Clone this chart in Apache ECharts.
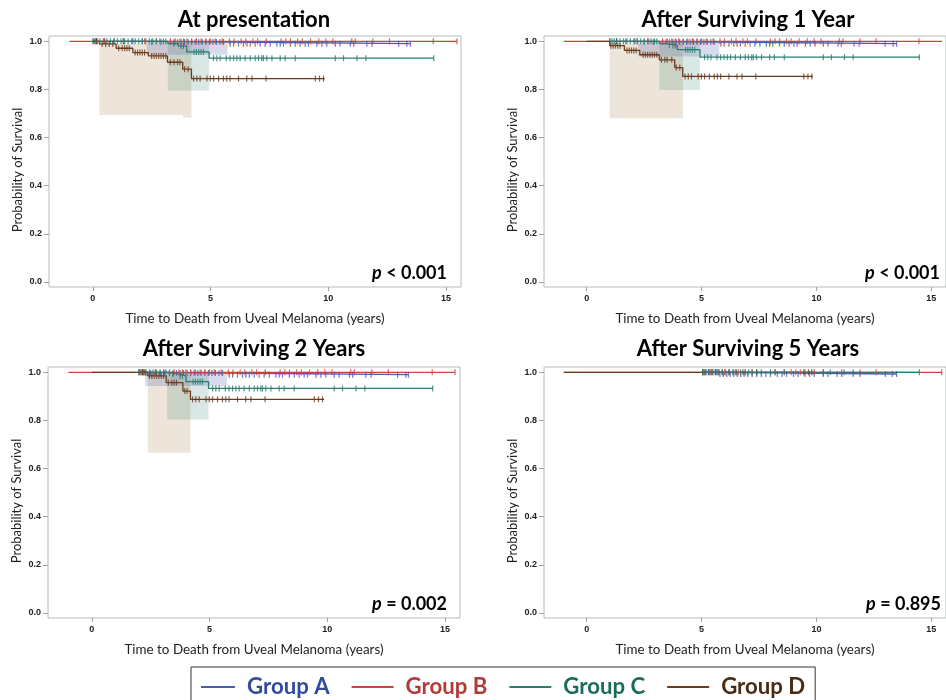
<!DOCTYPE html>
<html><head><meta charset="utf-8">
<script src="https://cdn.jsdelivr.net/npm/echarts@6/dist/echarts.min.js"></script>
<style>html,body{margin:0;padding:0;background:#fff}#c{width:946px;height:700px}</style>
</head><body><div id="c"></div>
<script>
const groupNames = ['Group A','Group B','Group C','Group D'];
const panelTitles = ['At presentation','After Surviving 1 Year','After Surviving 2 Years','After Surviving 5 Years'];
const pValues = ['< 0.001','< 0.001','= 0.002','= 0.895'];
const xTickValues = [0,5,10,15];
const yTickValues = [0,0.2,0.4,0.6,0.8,1.0];
const xAxisName = 'Time to Death from Uveal Melanoma (years)';
const yAxisName = 'Probability of Survival';

// ---- Panel 1: At presentation ----
const p1_A_t = [0, 2.3, 5.7, 13.49];
const p1_A_s = [1, 0.997, 0.99, 0.99];
const p1_B_t = [-1, 15.47];
const p1_B_s = [1, 1];
const p1_C_t = [0, 3.19, 3.63, 3.99, 4.94, 14.48];
const p1_C_s = [1, 0.99, 0.98, 0.956, 0.93, 0.93];
const p1_D_t = [0, 0.28, 0.99, 1.7, 2.36, 3.17, 3.82, 4.19, 9.85];
const p1_D_s = [1, 0.989, 0.971, 0.953, 0.939, 0.913, 0.884, 0.845, 0.845];
const p1_A_cens = [0.1,0.5,0.9,1.3,1.7,2.1,2.5,2.9,3.3,3.45,3.6,3.75,3.9,4.05,4.2,4.35,4.5,4.65,4.8,4.95,5.1,5.25,5.4,5.55,5.84,5.98,6.19,6.4,6.55,6.69,6.9,7.11,7.32,7.54,7.82,7.96,8.1,8.39,8.6,8.81,9.02,9.16,9.52,9.73,9.94,10.3,10.5,10.94,11.08,11.64,11.86,12.99,13.34,13.49];
const p1_B_cens = [0.2,0.5,1.3,2.2,2.7,3.3,3.5,3.7,3.85,4.0,4.2,4.4,4.6,4.8,5.0,5.2,5.5,5.8,6.0,6.3,6.5,6.8,7.0,7.37,8.0,8.2,8.4,8.7,8.9,9.25,9.6,9.9,10.2,11.0,11.15,11.9,12.6,14.46,15.47];
const p1_C_cens = [0.0,0.15,0.3,0.45,0.6,0.75,0.9,1.05,1.2,1.35,1.5,1.65,1.8,1.95,2.1,2.25,2.4,2.55,2.7,2.85,3.0,3.1,3.45,3.75,3.85,4.3,4.4,4.5,4.6,4.7,5.13,5.27,5.41,5.67,5.83,5.98,6.12,6.26,6.47,6.69,6.9,7.04,7.18,7.25,7.39,7.61,7.96,8.17,8.6,10.3,10.65,11.22,11.6,14.48];
const p1_D_cens = [0.05,0.15,0.4,0.55,0.7,0.85,1.1,1.25,1.35,1.45,1.55,1.8,1.9,2.0,2.1,2.2,2.5,2.6,2.7,2.8,2.9,3.0,3.1,3.3,3.45,3.6,3.7,3.9,4.05,4.28,4.42,4.56,4.85,4.99,5.13,5.34,5.55,5.69,5.83,6.19,6.54,6.76,7.36,9.45,9.63,9.8];
const p1_A_bands = [[2.29, 5.72, 0.944, 1.0]];
const p1_C_bands = [[3.19, 4.94, 0.795, 1.0]];
const p1_D_bands = [[0.28, 3.82, 0.694, 0.99], [3.82, 4.19, 0.683, 0.99]];

// ---- Panel 2: After surviving 1 year ----
const p2_A_t = [1.0, 2.25, 5.7, 13.49];
const p2_A_s = [1, 0.997, 0.99, 0.99];
const p2_B_t = [-1, 15.47];
const p2_B_s = [1, 1];
const p2_C_t = [1.0, 3.16, 3.5, 3.94, 4.93, 14.48];
const p2_C_s = [1, 0.99, 0.983, 0.965, 0.934, 0.934];
const p2_D_t = [0, 1.0, 1.64, 2.31, 3.16, 3.83, 4.18, 9.85];
const p2_D_s = [1, 0.982, 0.962, 0.944, 0.923, 0.891, 0.854, 0.854];
const p2_A_cens = [1.0,1.3,1.7,2.1,2.5,2.9,3.3,3.45,3.6,3.75,3.9,4.05,4.2,4.35,4.5,4.65,4.8,4.95,5.1,5.25,5.4,5.55,5.84,5.98,6.19,6.4,6.55,6.69,6.9,7.11,7.32,7.54,7.82,7.96,8.1,8.39,8.6,8.81,9.02,9.16,9.52,9.73,9.94,10.3,10.5,10.94,11.08,11.64,11.86,12.99,13.34,13.49];
const p2_B_cens = [1.3,2.2,2.7,3.3,3.5,3.7,3.85,4.0,4.2,4.4,4.6,4.8,5.0,5.2,5.5,5.8,6.0,6.3,6.5,6.8,7.0,7.37,8.0,8.2,8.4,8.7,8.9,9.25,9.6,9.9,10.2,11.0,11.15,11.9,12.6,14.46];
const p2_C_cens = [1.0,1.1,1.2,1.3,1.45,1.6,1.75,1.9,2.05,2.2,2.35,2.5,2.65,2.8,2.95,3.05,3.6,3.75,3.85,4.3,4.4,4.5,4.6,4.7,5.13,5.27,5.41,5.67,5.83,5.98,6.12,6.26,6.47,6.69,6.9,7.04,7.18,7.25,7.39,7.61,7.96,8.17,8.6,10.3,10.65,11.22,11.6,14.48];
const p2_D_cens = [1.05,1.15,1.25,1.35,1.45,1.75,1.85,1.95,2.05,2.15,2.45,2.55,2.65,2.75,2.85,2.95,3.05,3.25,3.4,3.5,3.7,3.9,4.05,4.28,4.42,4.56,4.85,4.99,5.13,5.34,5.55,5.69,5.83,6.19,6.54,6.76,7.36,9.45,9.63,9.8];
const p2_A_bands = [[2.24, 5.77, 0.937, 1.0]];
const p2_C_bands = [[3.16, 4.93, 0.798, 1.0]];
const p2_D_bands = [[1.0, 4.19, 0.68, 0.99]];

// ---- Panel 3: After surviving 2 years ----
const p3_A_t = [2.0, 2.27, 5.74, 13.45];
const p3_A_s = [1, 0.997, 0.99, 0.99];
const p3_B_t = [-1, 15.43];
const p3_B_s = [1, 1];
const p3_C_t = [2.0, 3.2, 3.65, 4.0, 4.96, 14.48];
const p3_C_s = [1, 0.993, 0.985, 0.961, 0.933, 0.933];
const p3_D_t = [0, 2.38, 3.16, 3.87, 4.19, 9.87];
const p3_D_s = [1, 0.985, 0.957, 0.922, 0.8875, 0.8875];
const p3_A_cens = [2.0,2.15,2.3,2.5,2.7,2.9,3.1,3.3,3.45,3.6,3.75,3.9,4.05,4.2,4.35,4.5,4.65,4.8,4.95,5.1,5.25,5.4,5.55,5.84,5.98,6.19,6.4,6.55,6.69,6.9,7.11,7.32,7.54,7.82,7.96,8.1,8.39,8.6,8.81,9.02,9.16,9.52,9.73,9.94,10.3,10.5,10.94,11.08,11.64,11.86,12.99,13.34,13.45];
const p3_B_cens = [2.2,2.7,3.3,3.5,3.7,3.85,4.0,4.2,4.4,4.6,4.8,5.0,5.2,5.5,5.8,6.0,6.3,6.5,6.8,7.0,7.37,8.0,8.2,8.4,8.7,8.9,9.25,9.6,9.9,10.2,11.0,11.15,11.9,12.6,14.46,15.43];
const p3_C_cens = [2.0,2.1,2.2,2.3,2.45,2.6,2.75,2.9,3.05,3.15,3.45,3.75,3.85,4.3,4.4,4.5,4.6,4.7,5.13,5.27,5.41,5.67,5.83,5.98,6.12,6.26,6.47,6.69,6.9,7.04,7.18,7.25,7.39,7.61,7.96,8.17,8.6,10.3,10.65,11.22,11.6,14.48];
const p3_D_cens = [2.05,2.15,2.25,2.45,2.55,2.65,2.75,2.85,2.95,3.05,3.25,3.4,3.5,3.6,3.95,4.05,4.28,4.42,4.56,4.85,4.99,5.13,5.34,5.55,5.69,5.83,6.19,6.54,6.76,7.36,9.45,9.63,9.8];
const p3_A_bands = [[2.27, 5.74, 0.943, 1.0]];
const p3_C_bands = [[3.2, 4.96, 0.804, 1.0]];
const p3_D_bands = [[2.38, 4.19, 0.666, 0.99]];

// ---- Panel 4: After surviving 5 years ----
const p4_A_t = [5.0, 5.7, 13.49];
const p4_A_s = [1, 0.993, 0.993];
const p4_B_t = [-1, 15.47];
const p4_B_s = [1, 1];
const p4_C_t = [5.0, 14.48];
const p4_C_s = [1, 1];
const p4_D_t = [-1, 9.8];
const p4_D_s = [1, 1];
const p4_A_cens = [5.05,5.2,5.35,5.5,5.65,5.8,5.95,6.1,6.25,6.4,6.55,6.7,6.85,7.0,7.2,7.4,7.6,7.8,8.0,8.3,8.5,8.7,9.0,9.2,9.5,9.7,9.9,10.3,10.5,10.9,11.1,11.6,11.9,13.0,13.3,13.49];
const p4_B_cens = [5.1,5.4,5.7,6.0,6.2,6.4,6.6,6.9,7.2,8.2,8.6,8.9,9.1,9.3,9.5,9.9,10.3,11.1,11.9,12.6,15.45];
const p4_C_cens = [5.05,5.15,5.3,5.45,5.6,5.75,5.9,6.05,6.2,6.35,6.5,6.7,6.9,7.05,7.2,7.4,7.6,8.0,8.2,8.6,10.3,10.6,11.2,11.6,14.48];
const p4_D_cens = [5.05,5.15,5.3,5.45,5.6,5.75,5.9,6.2,6.5,6.8,7.4,9.45,9.65,9.8];

// ---- styles ----
const lineColors = {A:'#4a5cae', B:'#c8473d', C:'#2a7d6c', D:'#6b3b1b'};
const bandColors = {A:'rgba(74,92,174,0.22)', C:'rgba(42,125,108,0.18)', D:'rgba(140,92,16,0.16)'};
const legendTextColors = ['#2f4b9a','#b13a35','#1b6b5b','#4e2a12'];
const legendIcons = ['path://M0,0h0.01v2h-0.01z M8,0h34v2h-34z','rect','rect','rect'];
const FONT = 'Lato, "Open Sans", sans-serif';

const panels = [
  {order:['A','B','C','D'], curves:{A:[p1_A_t,p1_A_s],B:[p1_B_t,p1_B_s],C:[p1_C_t,p1_C_s],D:[p1_D_t,p1_D_s]},
   cens:{A:p1_A_cens,B:p1_B_cens,C:p1_C_cens,D:p1_D_cens}, bands:{A:p1_A_bands,C:p1_C_bands,D:p1_D_bands}},
  {order:['A','B','C','D'], curves:{A:[p2_A_t,p2_A_s],B:[p2_B_t,p2_B_s],C:[p2_C_t,p2_C_s],D:[p2_D_t,p2_D_s]},
   cens:{A:p2_A_cens,B:p2_B_cens,C:p2_C_cens,D:p2_D_cens}, bands:{A:p2_A_bands,C:p2_C_bands,D:p2_D_bands}},
  {order:['A','B','C','D'], curves:{A:[p3_A_t,p3_A_s],B:[p3_B_t,p3_B_s],C:[p3_C_t,p3_C_s],D:[p3_D_t,p3_D_s]},
   cens:{A:p3_A_cens,B:p3_B_cens,C:p3_C_cens,D:p3_D_cens}, bands:{A:p3_A_bands,C:p3_C_bands,D:p3_D_bands}},
  {order:['A','B','D','C'], curves:{A:[p4_A_t,p4_A_s],B:[p4_B_t,p4_B_s],C:[p4_C_t,p4_C_s],D:[p4_D_t,p4_D_s]},
   cens:{A:p4_A_cens,B:p4_B_cens,C:p4_C_cens,D:p4_D_cens}, bands:{}}
];

const gridPos = [
  {left:49, top:36, width:412, height:251},
  {left:544, top:36, width:412, height:251},
  {left:48, top:367, width:412, height:251},
  {left:544, top:367, width:412, height:251}
];
const titleCenters = [[254,9],[748,9],[254,338],[748,338]];
const pRight = [946-447, 946-940, 946-447, 946-941];
const pTop = [264, 264, 595, 595];

function stepValue(ts, ss, t){
  let v = ss[0];
  for (let i=0;i<ts.length;i++){ if (ts[i] <= t + 1e-9) v = ss[i]; }
  return v;
}

const grids = [], xAxes = [], yAxes = [], series = [], titles = [];
panels.forEach((p, i) => {
  grids.push(Object.assign({show:true, borderColor:'#b3bcbc', borderWidth:1, backgroundColor:'transparent'}, gridPos[i]));
  xAxes.push({type:'value', gridIndex:i, min:-1.86, max:15.64, position:'bottom',
    axisLine:{show:false, onZero:false}, splitLine:{show:false},
    axisTick:{show:true, length:4, lineStyle:{color:'#9aa4a4'}, customValues:xTickValues},
    axisLabel:{customValues:xTickValues, margin:7, fontFamily:'"Liberation Sans", Arial', fontSize:9, fontWeight:'bold', color:'#222'},
    name:xAxisName, nameLocation:'middle', nameGap:25,
    nameTextStyle:{fontFamily:FONT, fontSize:13.4, color:'#222'}});
  yAxes.push({type:'value', gridIndex:i, min:-0.021, max:1.022, position:'left',
    axisLine:{show:false, onZero:false}, splitLine:{show:false},
    axisTick:{show:true, length:5, lineStyle:{color:'#9aa4a4'}, customValues:yTickValues},
    axisLabel:{customValues:yTickValues, margin:7, formatter:v=>v.toFixed(1), fontFamily:'"Liberation Sans", Arial', fontSize:9, fontWeight:'bold', color:'#222'},
    name:yAxisName, nameLocation:'middle', nameGap:25,
    nameTextStyle:{fontFamily:FONT, fontSize:13, color:'#222', padding:[0,17,0,0]}});
  ['D','C','A'].forEach(g => {
    const rows = p.bands[g];
    if (!rows) return;
    series.push({type:'custom', name:'Group '+g, xAxisIndex:i, yAxisIndex:i, z:1, silent:true,
      data: rows, encode:{x:[0,1], y:[2,3]},
      renderItem: (params, api) => {
        const a = api.coord([api.value(0), api.value(3)]);
        const b = api.coord([api.value(1), api.value(2)]);
        return {type:'rect', shape:{x:a[0], y:a[1], width:b[0]-a[0], height:b[1]-a[1]}, style:{fill:bandColors[g]}};
      }});
  });
  p.order.forEach(g => {
    const [ts, ss] = p.curves[g];
    series.push({type:'line', name:'Group '+g, xAxisIndex:i, yAxisIndex:i, z:2, step:'end',
      showSymbol:false, symbol:'none', silent:true,
      lineStyle:{color:lineColors[g], width:1.3}, itemStyle:{color:lineColors[g]},
      data: ts.map((t,k)=>[t, ss[k]])});
    series.push({type:'scatter', name:'Group '+g, xAxisIndex:i, yAxisIndex:i, z:2, silent:true,
      symbol:'rect', symbolSize:[1.2, 6], itemStyle:{color:lineColors[g]},
      data: p.cens[g].map(t => [t, stepValue(ts, ss, t)])});
  });
  titles.push({text:panelTitles[i], left:titleCenters[i][0], top:titleCenters[i][1], textAlign:'center', padding:0,
    textStyle:{fontFamily:FONT, fontWeight:'bold', fontSize:22, color:'#000'}});
  titles.push({text:'{i|p} {n|'+pValues[i]+'}', right:pRight[i], top:pTop[i], padding:0,
    textStyle:{rich:{i:{fontFamily:FONT, fontStyle:'italic', fontWeight:'bold', fontSize:18, color:'#000'},
                     n:{fontFamily:FONT, fontWeight:'bold', fontSize:18, color:'#000'}},
               fontFamily:FONT, fontWeight:'bold', fontSize:18, color:'#000'}});
});

const chart = echarts.init(document.getElementById('c'), null, {renderer:'canvas'});
chart.setOption({
  animation:false,
  backgroundColor:'#fff',
  title: titles,
  grid: grids, xAxis: xAxes, yAxis: yAxes,
  legend: {left:191, top:667, padding:[9,10,40,2], borderColor:'#333', borderWidth:1,
    itemWidth:42, itemHeight:2, itemGap:22, selectedMode:false,
    textStyle:{fontFamily:FONT, fontWeight:'bold', fontSize:22.2, padding:[0,0,0,7]},
    data: groupNames.map((n,k)=>({name:n, icon:legendIcons[k], itemStyle:{color:lineColors['ABCD'[k]]}, textStyle:{color:legendTextColors[k]}}))},
  series: series
});
</script></body></html>
